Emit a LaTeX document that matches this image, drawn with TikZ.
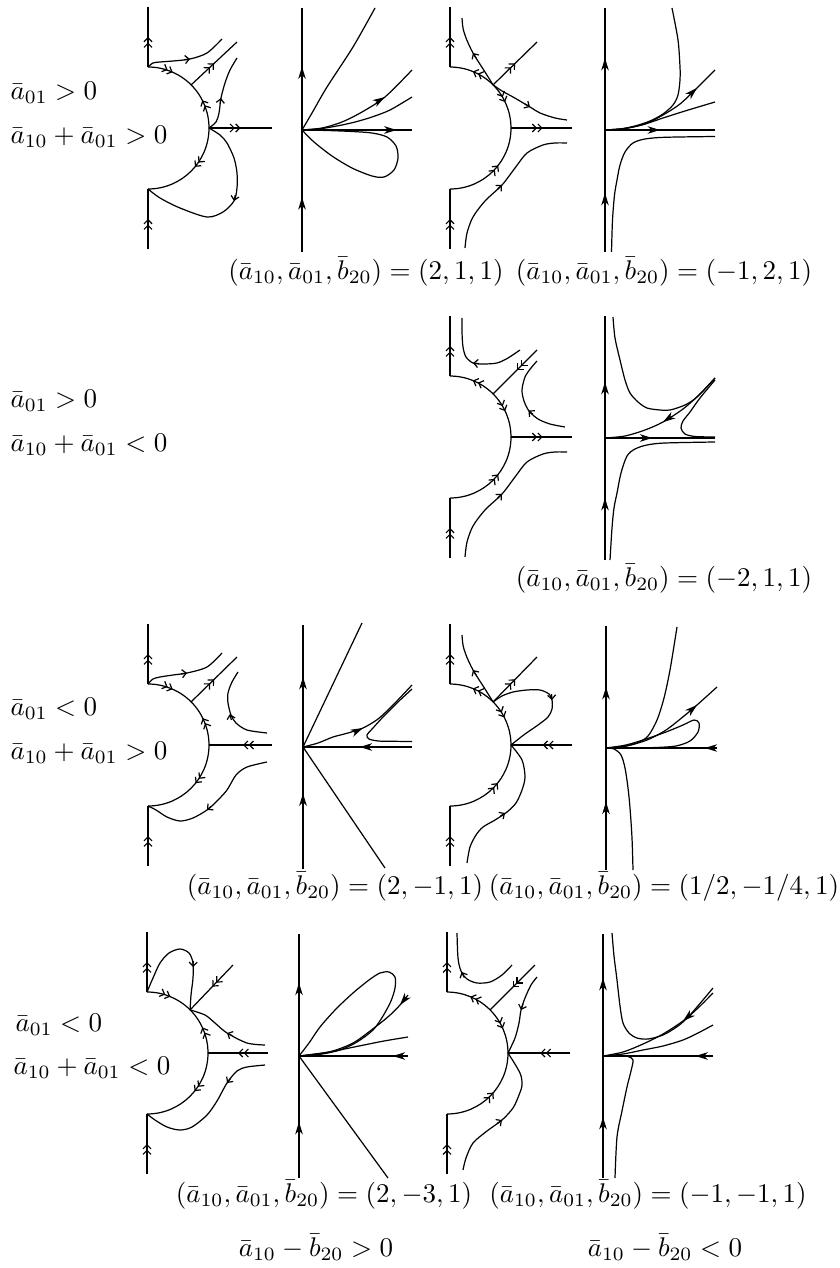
\documentclass[tikz,border=0pt]{standalone}
\usepackage{amsmath}
\usepackage{tikz}
\usetikzlibrary{arrows.meta,decorations.markings}

\begin{document}
\begin{tikzpicture}[x=0.3704pt,y=-0.3704pt,
    orbit/.style={line width=0.45pt},
    >={Straight Barb[length=1.5pt,width=3pt]},
    darr/.style={postaction={decorate,decoration={markings,
        mark=at position #1 with {\arrow{>>}}}}},
    farr/.style={postaction={decorate,decoration={markings,
        mark=at position #1 with {\arrow{Stealth[length=4.6pt,width=2.8pt,inset=1.4pt]}}}}},
    stip/.style={-{>}},
    ftip/.style={-{Stealth[length=4.6pt,width=2.8pt,inset=1.4pt]}},
    cond/.style={anchor=west,inner sep=0pt},
    param/.style={inner sep=0pt}
]
\useasboundingbox (0,0) rectangle (839,1268);

\begin{scope}[shift={(148,128)},orbit]
    \draw[darr=0.5] (0,121) -- (0,61);
    \draw[darr=0.5] (0,-61) -- (0,-121);
    \draw[darr=0.53] (0,-61) arc[start angle=-90,end angle=-45,radius=61];
    \draw[darr=0.6] (61,0) arc[start angle=0,end angle=-45,radius=61];
    \draw[darr=0.44] (61,0) arc[start angle=0,end angle=90,radius=61];
    \draw[darr=0.5] (61,0) -- (124,0);
    \draw[darr=0.5] (43.1,-43.1) -- (89,-86);
    \draw plot[smooth] coordinates {(0,-61) (5,-65) (12,-66) (25,-67) (42,-69) (59,-75) (74,-89)};
    \draw[stip] (36,-68.3) -- (42,-69);
    \draw plot[smooth] coordinates {(61,0) (68,-6) (71,-15) (73,-30) (77,-45) (82,-58) (89,-70)};
    \draw[stip] (72.2,-24) -- (73,-30);
    \draw plot[smooth] coordinates {(61,0) (72,7) (79,15) (86,30) (89,45) (89,60) (86,73) (75,84) (59,89) (32,80) (12,70) (0,61)};
    \draw[stip] (87.3,67) -- (86,73);
\end{scope}

\begin{scope}[shift={(302,130)},orbit]
    \draw[farr=0.225,farr=0.76] (0,122) -- (0,-122);
    \draw[farr=0.86] (0,0) -- (110,0);
    \draw plot[smooth] coordinates {(0,0) (10,-17) (25,-43) (51,-83) (73,-122)};
    \draw plot[smooth] coordinates {(0,0) (20,-2) (40,-8) (60,-18) (83,-33) (110,-60)};
    \draw[ftip] (73.9,-27.5) -- (83,-33);
    \draw plot[smooth] coordinates {(0,0) (20,-1.5) (40,-5) (55,-8.5) (70,-13) (88,-20) (110,-33)};
    \draw plot[smooth] coordinates {(0,0) (12,12) (30,26) (50,38) (70,46) (82,47) (92,40) (96,28) (94,16) (85,7) (70,3) (50,1.5) (25,0.5) (0,0)};
\end{scope}

\begin{scope}[shift={(450,128)},orbit]
    \draw[darr=0.5] (0,121) -- (0,61);
    \draw[darr=0.5] (0,-61) -- (0,-121);
    \draw[darr=0.51] (43.1,-43.1) arc[start angle=-45,end angle=-90,radius=61];
    \draw[darr=0.44] (43.1,-43.1) arc[start angle=-45,end angle=0,radius=61];
    \draw[darr=0.58] (0,61) arc[start angle=90,end angle=0,radius=61];
    \draw[darr=0.52] (61,0) -- (122,0);
    \draw[darr=0.5] (43.1,-43.1) -- (87,-86);
    \draw plot[smooth] coordinates {(43.1,-43.1) (35,-56) (23,-75) (16,-90) (13,-100) (12,-110)};
    \draw[stip] (26.2,-69.9) -- (23,-75);
    \draw plot[smooth] coordinates {(43.1,-43.1) (52,-37) (63,-31) (80,-21) (90,-15) (105,-10) (117,-8)};
    \draw[stip] (74.8,-24.1) -- (80,-21);
    \draw plot[smooth] coordinates {(15,120) (17,105) (23,89) (35,73) (52,57) (65,40) (77,25) (93,17) (105,15) (117,15)};
    \draw[stip] (47.6,61.1) -- (52,57);
\end{scope}

\begin{scope}[shift={(605,130)},orbit]
    \draw[farr=0.242,farr=0.795] (0,122) -- (0,-122);
    \draw[farr=0.5] (0,0) -- (110,0);
    \draw plot[smooth] coordinates {(6.5,122) (7.5,90) (9.5,65) (12,50) (15,35) (20,22) (28,13) (40,9) (60,7.3) (110,6.5)};
    \draw plot[smooth] coordinates {(0,0) (15,-1) (30,-4) (45,-9) (58,-16) (68,-25) (73,-35) (75,-50) (75,-63) (73,-90) (67,-122)};
    \draw plot[smooth] coordinates {(0,0) (20,-1.5) (40,-6) (58,-15) (75,-26) (92,-42) (110,-60)};
    \draw[ftip] (84.7,-35.1) -- (92,-42);
    \draw plot[smooth] coordinates {(0,0) (20,-1.5) (40,-6) (58,-12) (80,-19) (110,-28)};
\end{scope}

\begin{scope}[shift={(450,437)},orbit]
    \draw[darr=0.5] (0,121) -- (0,61);
    \draw[darr=0.5] (0,-61) -- (0,-121);
    \draw[darr=0.51] (43.1,-43.1) arc[start angle=-45,end angle=-90,radius=61];
    \draw[darr=0.44] (43.1,-43.1) arc[start angle=-45,end angle=0,radius=61];
    \draw[darr=0.58] (0,61) arc[start angle=90,end angle=0,radius=61];
    \draw[darr=0.52] (61,0) -- (122,0);
    \draw[darr=0.45] (87,-87) -- (43.1,-43.1);
    \draw plot[smooth] coordinates {(70,-87) (58,-79) (47,-74) (33,-73) (23,-74) (16,-80) (13,-90) (12,-105) (12,-119)};
    \draw[stip] (29,-73.4) -- (23,-74);
    \draw plot[smooth] coordinates {(115,-10) (100,-13) (88,-18) (79,-26) (74,-36) (72,-47) (75,-60) (81,-69) (87,-76)};
    \draw[stip] (83,-22.5) -- (78.5,-26.5);
    \draw plot[smooth] coordinates {(15,120) (17,105) (23,89) (35,73) (52,57) (65,40) (77,25) (93,17) (105,15) (117,15)};
    \draw[stip] (47.6,61.1) -- (52,57);
\end{scope}

\begin{scope}[shift={(605,438)},orbit]
    \draw[farr=0.254,farr=0.73] (0,122) -- (0,-122);
    \draw[farr=0.43] (0,0) -- (110,0);
    \draw plot[smooth] coordinates {(8,-121) (10,-100) (15,-78) (20,-58) (25,-45) (33,-36) (42,-30) (55,-28) (65,-28) (80,-33) (92,-41) (110,-60)};
    \draw plot[smooth] coordinates {(5,122) (7,90) (9,70) (12,55) (16,35) (22,18) (30,11) (42,7) (60,5) (110,4)};
    \draw plot[smooth] coordinates {(110,-60) (95,-44) (78,-29) (58,-16) (40,-8) (20,-2) (0,0)};
    \draw[ftip] (66.4,-21.5) -- (58,-16);
    \draw plot[smooth] coordinates {(110,-58) (95,-40) (85,-26) (78,-17) (76,-10) (80,-4) (90,-1.5) (110,-1)};
\end{scope}

\begin{scope}[shift={(148,745)},orbit]
    \draw[darr=0.5] (0,121) -- (0,61);
    \draw[darr=0.5] (0,-61) -- (0,-121);
    \draw[darr=0.53] (0,-61) arc[start angle=-90,end angle=-45,radius=61];
    \draw[darr=0.58] (61,0) arc[start angle=0,end angle=-45,radius=61];
    \draw[darr=0.43] (61,0) arc[start angle=0,end angle=90,radius=61];
    \draw[darr=0.46] (124,0) -- (61,0);
    \draw[darr=0.5] (43.1,-43.1) -- (89,-88);
    \draw plot[smooth] coordinates {(0,-61) (5,-66) (12,-68) (25,-70) (39,-72) (59,-78) (74,-92)};
    \draw[stip] (33,-71.2) -- (39,-72);
    \draw plot[smooth] coordinates {(119,-12) (99,-15) (88,-22) (83,-30) (80,-42) (80,-52) (84,-63) (90,-73)};
    \draw[stip] (83.3,-25) -- (82,-31);
    \draw plot[smooth] coordinates {(119,17) (99,22) (88,30) (79,45) (68,57) (59,65) (45,73) (32,76) (19,72) (8,65) (0,61)};
    \draw[stip] (63.5,61) -- (59,65);
\end{scope}

\begin{scope}[shift={(303,747)},orbit]
    \draw[farr=0.31,farr=0.787] (0,122) -- (0,-122);
    \draw[farr=0.48] (109,0) -- (0,0);
    \draw (0,0) -- (59,-124);
    \draw (0,0) -- (82,121);
    \draw plot[smooth] coordinates {(0,0) (15,-4) (30,-10) (45,-14) (60,-19) (75,-28) (90,-42) (109,-62)};
    \draw[ftip] (51,-14.8) -- (60,-19);
    \draw plot[smooth] coordinates {(109,-58) (95,-45) (80,-30) (70,-19) (64,-12) (66,-8) (75,-6) (90,-5.7) (109,-5.5)};
\end{scope}

\begin{scope}[shift={(450,745)},orbit]
    \draw[darr=0.5] (0,121) -- (0,61);
    \draw[darr=0.5] (0,-61) -- (0,-121);
    \draw[darr=0.51] (43.1,-43.1) arc[start angle=-45,end angle=-90,radius=61];
    \draw[darr=0.4] (43.1,-43.1) arc[start angle=-45,end angle=0,radius=61];
    \draw[darr=0.57] (0,61) arc[start angle=90,end angle=0,radius=61];
    \draw[darr=0.48] (122,0) -- (61,0);
    \draw[darr=0.5] (43.1,-43.1) -- (87,-88);
    \draw plot[smooth] coordinates {(43.1,-43.1) (35,-56) (23,-75) (16,-90) (13,-100) (12,-110)};
    \draw[stip] (26.2,-69.9) -- (23,-75);
    \draw plot[smooth] coordinates {(43.1,-43.1) (52,-49) (63,-53) (77,-55) (90,-55) (99,-51) (102,-45) (102,-36) (98,-28) (88,-20) (75,-11) (66,-4) (61,0)};
    \draw[stip] (101.5,-51) -- (102,-45);
    \draw plot[smooth] coordinates {(17,118) (20,102) (26,90) (33,82) (45,75) (57,67) (66,58) (72,45) (75,32) (72,15) (61,0)};
    \draw[stip] (50.5,71) -- (55,68);
\end{scope}

\begin{scope}[shift={(606,748)},orbit]
    \draw[farr=0.28,farr=0.75] (0,122) -- (0,-122);
    \draw[farr=0.11] (111,0) -- (0,0);
    \draw plot[smooth] coordinates {(0,0) (15,-1) (31,-5) (42,-12) (51,-28) (58,-50) (64,-78) (71,-121)};
    \draw plot[smooth] coordinates {(0,0) (20,-2) (41,-8) (60,-18) (78,-32) (91,-43) (111,-61)};
    \draw[ftip] (83.4,-36.5) -- (91,-43);
    \draw plot[smooth] coordinates {(0,0) (20,-3) (40,-9) (60,-16) (77,-23) (88,-28) (93,-25) (92,-16) (84,-7) (70,-2) (50,-0.5) (25,0) (0,0)};
    \draw plot[smooth] coordinates {(0,0) (8,1) (15,7) (19,20) (22,40) (24,60) (26,90) (27,122)};
\end{scope}

\begin{scope}[shift={(147,1053)},orbit]
    \draw[darr=0.5] (0,121) -- (0,61);
    \draw[darr=0.5] (0,-61) -- (0,-121);
    \draw[darr=0.5] (0,-61) arc[start angle=-90,end angle=-45,radius=61];
    \draw[darr=0.55] (61,0) arc[start angle=0,end angle=-45,radius=61];
    \draw[darr=0.43] (61,0) arc[start angle=0,end angle=90,radius=61];
    \draw[darr=0.5] (121,0) -- (61,0);
    \draw[darr=0.48] (86,-88) -- (43.1,-43.1);
    \draw plot[smooth] coordinates {(0,-61) (6,-75) (13,-90) (22,-100) (33,-104) (42,-100) (46,-90) (46,-75) (44,-58) (43.1,-43.1)};
    \draw[stip] (46.2,-92) -- (46,-86);
    \draw plot[smooth] coordinates {(118,-8) (100,-10) (80,-20) (68,-30) (58,-38) (43.1,-43.1)};
    \draw[stip] (85.3,-17.3) -- (80,-20);
    \draw plot[smooth] coordinates {(118,12) (100,14) (90,18) (80,30) (70,48) (60,62) (45,74) (33,77) (20,74) (8,67) (0,61)};
    \draw[stip] (83.6,25.2) -- (80,30);
\end{scope}

\begin{scope}[shift={(299,1056)},orbit]
    \draw[farr=0.23,farr=0.8] (0,122) -- (0,-122);
    \draw[farr=0.14] (109,0) -- (0,0);
    \draw plot[smooth] coordinates {(0,0) (10,-13) (21,-29) (37,-47) (54,-63) (70,-76) (81,-83) (90,-84) (96,-79) (96,-68) (92,-55) (84,-40) (74,-26) (58,-14) (41,-6) (20,-1.5) (0,0)};
    \draw plot[smooth] coordinates {(109,-61) (101,-51) (90,-40) (75,-28) (54,-13) (30,-4) (0,0)};
    \draw[ftip] (107.2,-58.8) -- (101,-51);
    \draw plot[smooth] coordinates {(0,0) (30,-4) (60,-10) (85,-15) (109,-19)};
    \draw (0,0) -- (89,122);
\end{scope}

\begin{scope}[shift={(447,1053)},orbit]
    \draw[darr=0.5] (0,121) -- (0,61);
    \draw[darr=0.5] (0,-61) -- (0,-121);
    \draw[darr=0.5] (43.1,-43.1) arc[start angle=-45,end angle=-90,radius=61];
    \draw[darr=0.47] (43.1,-43.1) arc[start angle=-45,end angle=0,radius=61];
    \draw[darr=0.55] (0,61) arc[start angle=90,end angle=0,radius=61];
    \draw[darr=0.48] (123,0) -- (61,0);
    \draw[darr=0.5] (88,-88) -- (43.1,-43.1);
    \draw plot[smooth] coordinates {(65,-88) (55,-78) (43,-71) (30,-70) (20,-74) (14,-82) (11,-95) (10,-120)};
    \draw[stip] (17.3,-75.5) -- (14.6,-81);
    \draw plot[smooth] coordinates {(90,-76) (84,-68) (78,-55) (74,-43) (72,-30) (68,-15) (61,0)};
    \draw[stip] (76,-49) -- (74,-43);
    \draw plot[smooth] coordinates {(16,117) (19,105) (26,90) (40,78) (55,67) (66,55) (72,42) (75,32) (73,20) (61,0)};
    \draw[stip] (50.1,70.5) -- (55,67);
\end{scope}

\begin{scope}[shift={(603,1056)},orbit]
    \draw[farr=0.25,farr=0.82] (0,122) -- (0,-122);
    \draw[farr=0.16] (110,0) -- (0,0);
    \draw plot[smooth] coordinates {(9,-123) (11,-100) (14,-76) (17,-50) (20,-33) (26,-23) (34,-18) (45,-17) (60,-21) (75,-30) (87,-41) (110,-68)};
    \draw plot[smooth] coordinates {(110,-63) (95,-48) (80,-35) (60,-22) (40,-12) (20,-4) (0,0)};
    \draw[ftip] (87.6,-41.5) -- (80,-35);
    \draw plot[smooth] coordinates {(0,0) (20,-2) (40,-6) (60,-10) (80,-16) (95,-23) (110,-31)};
    \draw plot[smooth] coordinates {(0,0) (15,0) (25,0.5) (30,4) (28,15) (24,31) (19,55) (14,81) (12,122)};
\end{scope}

\node[cond] (r1a) at (10,93) {$\bar a_{01}>0$};
\node[cond] (r1b) at (10,137) {$\bar a_{10}+\bar a_{01}>0$};
\node[param] (p1a) at (366,272) {$(\bar a_{10},\bar a_{01},\bar b_{20})=(2,1,1)$};
\node[param] (p1b) at (664,272) {$(\bar a_{10},\bar a_{01},\bar b_{20})=(-1,2,1)$};
\node[cond] (r2a) at (10,401) {$\bar a_{01}>0$};
\node[cond] (r2b) at (10,445) {$\bar a_{10}+\bar a_{01}<0$};
\node[param] (p2) at (664,579) {$(\bar a_{10},\bar a_{01},\bar b_{20})=(-2,1,1)$};
\node[cond] (r3a) at (10,709) {$\bar a_{01}<0$};
\node[cond] (r3b) at (10,753) {$\bar a_{10}+\bar a_{01}>0$};
\node[param] (p3a) at (335,887) {$(\bar a_{10},\bar a_{01},\bar b_{20})=(2,-1,1)$};
\node[param] (p3b) at (664,887) {$(\bar a_{10},\bar a_{01},\bar b_{20})=(1/2,-1/4,1)$};
\node[cond] (r4a) at (15,1025) {$\bar a_{01}<0$};
\node[cond] (r4b) at (13,1068) {$\bar a_{10}+\bar a_{01}<0$};
\node[param] (p4a) at (324,1195) {$(\bar a_{10},\bar a_{01},\bar b_{20})=(2,-3,1)$};
\node[param] (p4b) at (648,1195) {$(\bar a_{10},\bar a_{01},\bar b_{20})=(-1,-1,1)$};
\node[param] (q4a) at (316,1247) {$\bar a_{10}-\bar b_{20}>0$};
\node[param] (q4b) at (665,1247) {$\bar a_{10}-\bar b_{20}<0$};
\end{tikzpicture}
\end{document}
